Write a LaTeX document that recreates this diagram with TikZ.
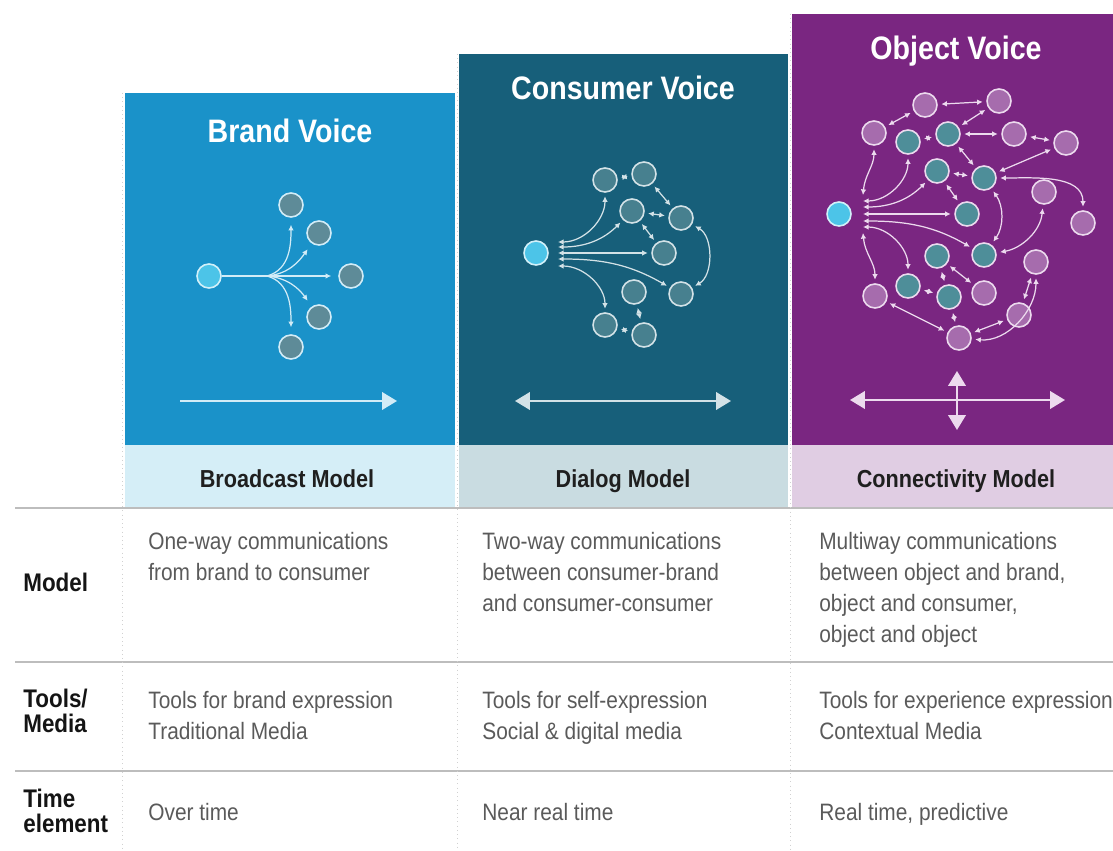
\documentclass[tikz,border=0pt]{standalone}
\usepackage{fontspec}
\setmainfont{Liberation Sans}[FakeStretch=0.88]
\usetikzlibrary{arrows.meta}

\definecolor{brandbg}{HTML}{1A92C9}
\definecolor{brandband}{HTML}{D5EEF7}
\definecolor{consbg}{HTML}{175F7A}
\definecolor{consband}{HTML}{C9DCE1}
\definecolor{objbg}{HTML}{7A2681}
\definecolor{objband}{HTML}{E0CDE3}
\definecolor{srcfill}{HTML}{4CC4E8}
\definecolor{bnode}{HTML}{5E8B98}
\definecolor{cnode}{HTML}{47808F}
\definecolor{tealnode}{HTML}{4E8E99}
\definecolor{plumnode}{HTML}{A66CAD}
\definecolor{blinkcol}{HTML}{D2ECF7}
\definecolor{clinkcol}{HTML}{D3E2E7}
\definecolor{olinkcol}{HTML}{ECDAEE}
\definecolor{celltext}{HTML}{5A5A5A}
\definecolor{rulecol}{HTML}{BDBDBD}

\begin{document}
\begin{tikzpicture}[x=0.02cm, y=0.02cm,
  dot/.style={circle, minimum size=0.48cm, inner sep=0pt, line width=0.9pt},
  src/.style={dot, fill=srcfill, draw=white!75!srcfill},
  bdot/.style={dot, fill=bnode, draw=blinkcol},
  cdot/.style={dot, fill=cnode, draw=clinkcol},
  tdot/.style={dot, fill=tealnode, draw=olinkcol},
  pdot/.style={dot, fill=plumnode, draw=olinkcol},
  tip/.tip={Latex[length=3.2pt,width=3.2pt]},
  link/.style={line width=0.7pt, tip-tip, shorten <=2pt, shorten >=2pt},
  fan/.style={line width=0.7pt, tip-tip, shorten >=2pt},
  spray/.style={line width=0.7pt, draw=blinkcol, -tip, shorten >=4pt},
  bigarrow/.style={line width=1.1pt, {Triangle[length=8.5pt,width=10pt]}-{Triangle[length=8.5pt,width=10pt]}},
  title/.style={text=white, font=\bfseries\fontsize{18.5}{20}\selectfont, anchor=base},
  band/.style={text=black!88, font=\bfseries\fontsize{14}{16}\selectfont, anchor=base},
  rowhead/.style={text=black!92, font=\bfseries\fontsize{14.5}{14.2}\selectfont, align=left, anchor=base west, inner sep=0pt},
  cell/.style={text=celltext, font=\fontsize{13.5}{17.6}\selectfont, align=left, anchor=base west, inner sep=0pt}]
\useasboundingbox (0,0) rectangle (1113,850);

% coloured columns
\fill[brandbg] (125,405) rectangle (455,757);
\fill[brandband] (125,342) rectangle (455,405);
\fill[consbg] (459,405) rectangle (788,796);
\fill[consband] (459,342) rectangle (788,405);
\fill[objbg] (792,405) rectangle (1113,836);
\fill[objband] (792,342) rectangle (1113,405);

\node[title] (tbrand) at (290,707) {Brand Voice};
\node[title] (tcons) at (623,750) {Consumer Voice};
\node[title] (tobj) at (956,790) {Object Voice};

\node[band] (lbrand) at (287,363) {Broadcast Model};
\node[band] (lcons) at (623,363) {Dialog Model};
\node[band] (lobj) at (956,363) {Connectivity Model};

% broadcast
\node[src] (b0) at (209,574) {};
\node[bdot] (b1) at (291,645) {};
\node[bdot] (b2) at (319,617) {};
\node[bdot] (b3) at (351,574) {};
\node[bdot] (b4) at (319,533) {};
\node[bdot] (b5) at (291,503) {};
\coordinate (bfan) at (267,574);
\draw[draw=blinkcol, line width=1.3pt] (b0) -- (bfan);
\draw[spray] (bfan) to[out=15,in=-90] (b1);
\draw[spray] (bfan) to[out=5,in=-125] (b2);
\draw[spray] (bfan) -- (b3);
\draw[spray] (bfan) to[out=-5,in=125] (b4);
\draw[spray] (bfan) to[out=-15,in=90] (b5);

% dialog
\node[src] (c0) at (536,597) {};
\node[cdot] (ca) at (605,670) {};
\node[cdot] (cb) at (644,676) {};
\node[cdot] (cc) at (632,639) {};
\node[cdot] (cd) at (681,632) {};
\node[cdot] (ce) at (664,597) {};
\node[cdot] (cf) at (681,556) {};
\node[cdot] (cg) at (634,558) {};
\node[cdot] (ch) at (605,525) {};
\node[cdot] (ci) at (644,515) {};
\coordinate (cf1) at (558,608);
\coordinate (cf2) at (558,603);
\coordinate (cf3) at (558,597);
\coordinate (cf4) at (558,591);
\coordinate (cf5) at (558,584);
\begin{scope}[draw=clinkcol]
\draw[fan] (cf1) to[out=0,in=-90] (ca);
\draw[fan] (cf2) to[out=0,in=-135] (cc);
\draw[fan] (cf3) -- (ce);
\draw[fan] (cf4) to[out=0,in=150] (cf);
\draw[fan] (cf5) to[out=0,in=90] (ch);
\draw[link] (ca) -- (cb);
\draw[link] (cb) -- (cd);
\draw[link] (cc) -- (cd);
\draw[link] (cc) -- (ce);
\draw[link] (cd) to[out=-30,in=30] (cf);
\draw[link] (cg) -- (ci);
\draw[link] (ch) -- (ci);
\end{scope}

% connectivity
\node[src] (o0) at (839,636) {};
\node[pdot] (p1) at (925,745) {};
\node[pdot] (p2) at (999,749) {};
\node[pdot] (p3) at (874,717) {};
\node[pdot] (p4) at (1014,716) {};
\node[pdot] (p5) at (1066,707) {};
\node[pdot] (p6) at (1044,658) {};
\node[pdot] (p7) at (1083,627) {};
\node[pdot] (p8) at (1036,588) {};
\node[pdot] (p9) at (875,554) {};
\node[pdot] (p10) at (984,557) {};
\node[pdot] (p11) at (1019,535) {};
\node[pdot] (p12) at (959,512) {};
\node[tdot] (t1) at (908,708) {};
\node[tdot] (t2) at (948,716) {};
\node[tdot] (t3) at (937,679) {};
\node[tdot] (t4) at (984,672) {};
\node[tdot] (t5) at (967,636) {};
\node[tdot] (t6) at (984,595) {};
\node[tdot] (t7) at (937,594) {};
\node[tdot] (t8) at (908,564) {};
\node[tdot] (t9) at (949,553) {};
\coordinate (of1) at (863,655);
\coordinate (of2) at (863,649);
\coordinate (of3) at (863,643);
\coordinate (of4) at (863,636);
\coordinate (of5) at (863,629);
\coordinate (of6) at (863,623);
\coordinate (of7) at (863,617);
\begin{scope}[draw=olinkcol]
\draw[fan] (of1) to[out=85,in=-90] (p3);
\draw[fan] (of2) to[out=0,in=-90] (t1);
\draw[fan] (of3) to[out=0,in=-135] (t3);
\draw[fan] (of4) -- (t5);
\draw[fan] (of5) to[out=0,in=150] (t6);
\draw[fan] (of6) to[out=0,in=90] (t8);
\draw[fan] (of7) to[out=-85,in=90] (p9);
\draw[link] (p3) -- (p1);
\draw[link] (p1) -- (p2);
\draw[link] (t2) -- (p2);
\draw[link] (t1) -- (t2);
\draw[link] (t2) -- (p4);
\draw[link] (p4) -- (p5);
\draw[link] (t2) -- (t4);
\draw[link] (p5) -- (t4);
\draw[link] (t3) -- (t4);
\draw[link] (t3) -- (t5);
\draw[link] (t4) to[out=0,in=90] (p7);
\draw[link] (t4) to[out=-55,in=55] (t6);
\draw[link] (p6) to[out=-95,in=10] (t6);
\draw[link] (t7) -- (t9);
\draw[link] (t7) -- (p10);
\draw[link] (t8) -- (t9);
\draw[link] (t9) -- (p12);
\draw[link] (p12) -- (p9);
\draw[link] (p12) -- (p11);
\draw[link] (p11) -- (p8);
\draw[link] (p12) to[out=-5,in=-90] (p8);
\end{scope}

% direction arrows
\coordinate (ba1) at (180,449);
\coordinate (ba2) at (397,449);
\coordinate (ca1) at (515,449);
\coordinate (ca2) at (731,449);
\coordinate (oa1) at (850,450);
\coordinate (oa2) at (1065,450);
\coordinate (oa3) at (957,479);
\coordinate (oa4) at (957,420);
\draw[bigarrow, draw=blinkcol, fill=blinkcol, -{Triangle[length=8.5pt,width=10pt]}] (ba1) -- (ba2);
\draw[bigarrow, draw=clinkcol, fill=clinkcol] (ca1) -- (ca2);
\draw[bigarrow, draw=olinkcol, fill=olinkcol] (oa1) -- (oa2);
\draw[bigarrow, draw=olinkcol, fill=olinkcol] (oa3) -- (oa4);

% table
\draw[rulecol, line width=1.1pt] (15,342) -- (1113,342);
\draw[rulecol, line width=1.1pt] (15,188) -- (1113,188);
\draw[rulecol, line width=1.1pt] (15,79) -- (1113,79);
\draw[rulecol!70, dotted] (122.5,757) -- (122.5,0);
\draw[rulecol!70, dotted] (457,796) -- (457,0);
\draw[rulecol!70, dotted] (790,836) -- (790,0);

% multi-line nodes sit on the baseline of their last line
\node[rowhead] (hmodel) at (23,259) {Model};
\node[rowhead] (htools) at (23,118) {Tools/\\Media};
\node[rowhead] (htime) at (23,18) {Time\\element};

\node[cell] (m1) at (148,270) {One-way communications\\from brand to consumer};
\node[cell] (m2) at (482,239) {Two-way communications\\between consumer-brand\\and consumer-consumer};
\node[cell] (m3) at (819,208) {Multiway communications\\between object and brand,\\object and consumer,\\object and object};
\node[cell] (s1) at (148,111) {Tools for brand expression\\Traditional Media};
\node[cell] (s2) at (482,111) {Tools for self-expression\\Social \& digital media};
\node[cell] (s3) at (819,111) {Tools for experience expression\\Contextual Media};
\node[cell] (r1) at (148,30) {Over time};
\node[cell] (r2) at (482,30) {Near real time};
\node[cell] (r3) at (819,30) {Real time, predictive};
\end{tikzpicture}
\end{document}
